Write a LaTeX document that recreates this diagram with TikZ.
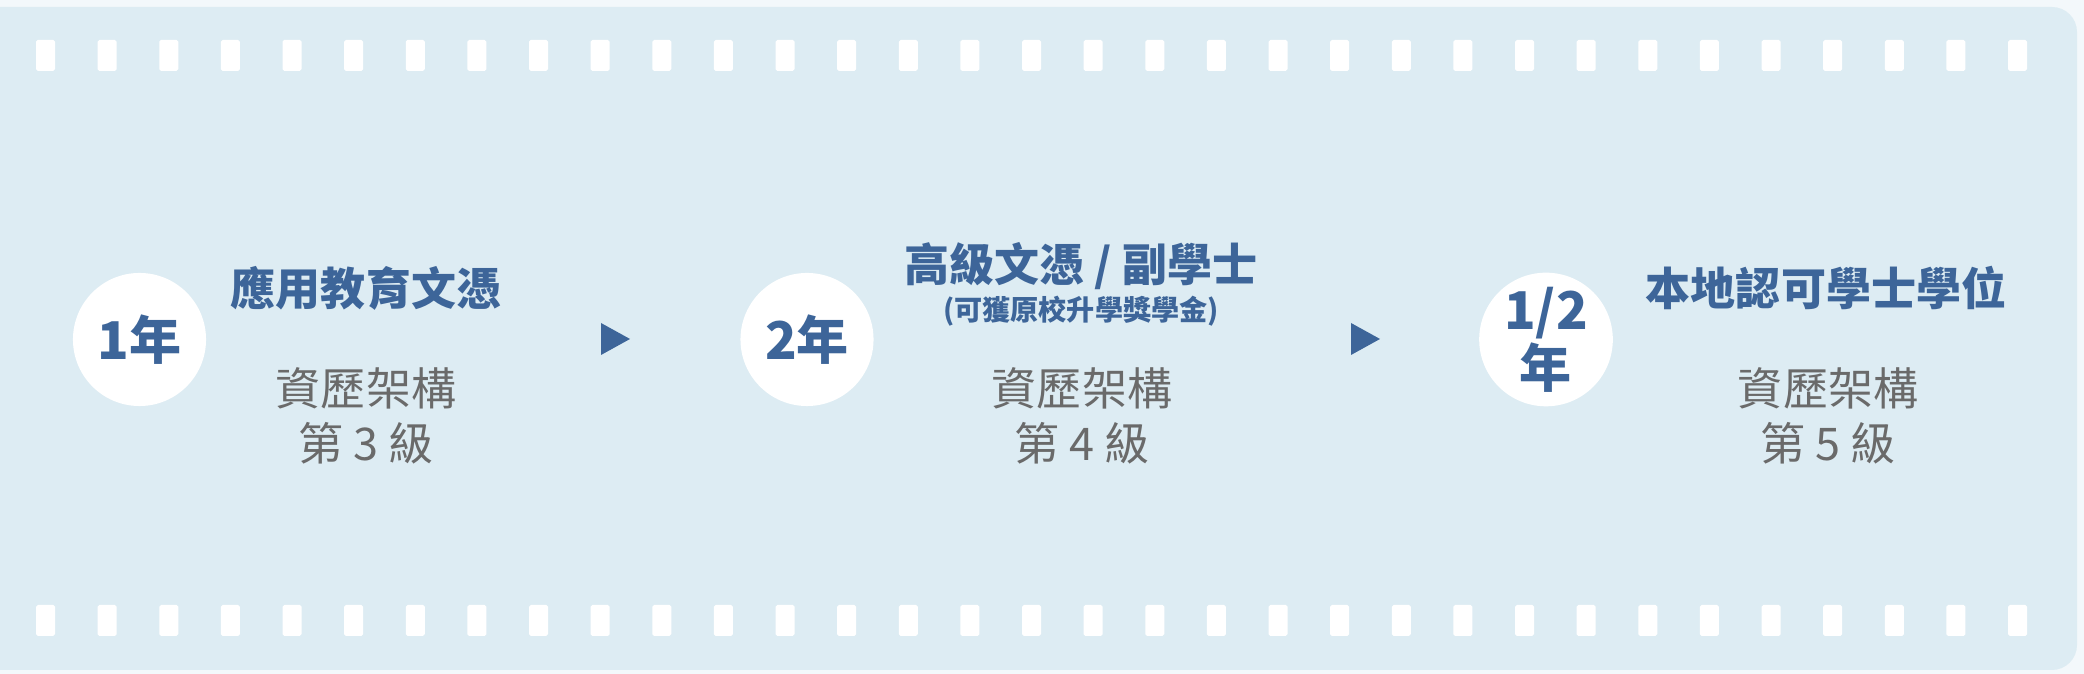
\documentclass[tikz,border=0pt]{standalone}
\usepackage{fontspec}
\setmainfont{Noto Sans CJK TC}
\usepackage{tikz}
\usetikzlibrary{positioning}
\usepackage{xcolor}
\definecolor{pagebg}{HTML}{F3F8FB}
\definecolor{filmbg}{HTML}{DDECF3}
\definecolor{stageblue}{HTML}{3D6599}
\definecolor{qfgray}{HTML}{6A6A6A}
\newcommand{\awardfont}{\bfseries\fontsize{12.8}{15}\selectfont}
\newcommand{\notefont}{\bfseries\fontsize{8}{9.6}\selectfont}
\newcommand{\levelfont}{\fontsize{12.8}{15.6}\selectfont}

\tikzset{
    yearcircle/.style={circle,fill=white,minimum size=1.33cm,inner sep=0pt,
        text=stageblue,align=center,font=\bfseries\fontsize{14.8}{16.4}\selectfont},
    award/.style={text=stageblue,inner sep=0pt,font=\awardfont},
    awardnote/.style={text=stageblue,inner sep=0pt,font=\notefont},
    qflevel/.style={text=qfgray,inner sep=0pt,align=center,font=\levelfont},
    filmhole/.style={fill=white,rounded corners=0.5pt},
    stepmark/.style={fill=stageblue},
}

\begin{document}
\begin{tikzpicture}[x=0.01cm,y=-0.01cm]
    \useasboundingbox (0,0) rectangle (2084,674);
    \fill[pagebg] (0,0) rectangle (2084,674);
    \fill[filmbg,rounded corners=0.25cm] (-60,7) rectangle (2077,670);

    % film holes
    \foreach \i in {0,...,32} {
        \fill[filmhole] ({36+61.625*\i},40) rectangle +(19,31);
        \fill[filmhole] ({36+61.625*\i},605) rectangle +(19,31);
    }

    % years
    \node[yearcircle] (year1) at (139.5,339.5) {1年};
    \node[yearcircle] (year2) at (807,339.5) {2年};
    \node[yearcircle] (year3) at (1546,339.5) {1/2\\年};

    % awards
    \node[award] (award1) at (366,288) {應用教育文憑};
    \node[award] (award2) at (1081,266) {高級文憑 / 副學士};
    \node[awardnote] (note2) at (1081,311) {(可獲原校升學獎學金)};
    \node[award] (award3) at (1826,288) {本地認可學士學位};

    % qualifications framework
    \node[qflevel] (level1) at (366,416) {資歷架構\\第 3 級};
    \node[qflevel] (level2) at (1082,416) {資歷架構\\第 4 級};
    \node[qflevel] (level3) at (1828,416) {資歷架構\\第 5 級};

    % arrows
    \fill[stepmark] (601,323) -- (630,339) -- (601,355) -- cycle;
    \fill[stepmark] (1351,323) -- (1380,339) -- (1351,355) -- cycle;
\end{tikzpicture}
\end{document}
